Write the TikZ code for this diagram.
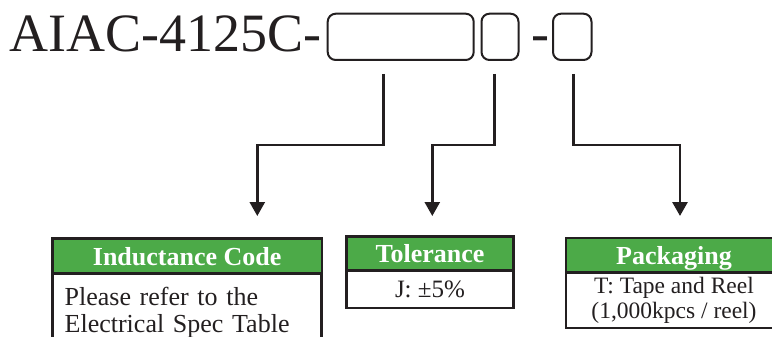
\documentclass[tikz,border=0pt]{standalone}
\usepackage{fontspec}
\setmainfont{Liberation Serif}
\usetikzlibrary{positioning,calc,arrows.meta}
\definecolor{hdrgreen}{RGB}{76,170,72}
\definecolor{inkblack}{RGB}{35,31,32}
\tikzset{
	partbox/.style={draw=inkblack, line width=2pt, rounded corners=8pt, inner sep=0pt, outer sep=0pt},
	headbox/.style={draw=inkblack, fill=hdrgreen, line width=2.6pt, inner sep=0pt, outer sep=0pt,
		text=white, font=\fontsize{26}{28}\selectfont\bfseries, text height=18pt, text depth=0pt},
	bodybox/.style={draw=inkblack, line width=2.6pt, outer sep=0pt, text=inkblack},
	feed/.style={draw=inkblack, line width=2.8pt, -{Triangle[width=15pt,length=14pt]}}
}
\begin{document}
\begin{tikzpicture}[x=1pt, y=-1pt]
	\useasboundingbox (0,0) rectangle (772,337);
	% part number with the blank fields
	\node[anchor=base west, inner sep=0pt, text=inkblack, font=\fontsize{54}{60}\selectfont] (pn) at (9,52) {AIAC-4125C-};
	\node[partbox, minimum width=146pt, minimum height=46.3pt] (code) at (400.7,36.85) {};
	\node[partbox, minimum width=37pt, minimum height=46.3pt] (tol) at (500,36.85) {};
	\node[anchor=base, inner sep=0pt, text=inkblack, font=\fontsize{54}{60}\selectfont] (dash) at (540,52) {-};
	\node[partbox, minimum width=38.5pt, minimum height=46.3pt] (pack) at (572.25,36.85) {};
	% legend boxes
	\node[headbox, minimum width=269.3pt, minimum height=35pt] (indhead) at (187.15,256) {Inductance Code};
	\node[bodybox, below=0pt of indhead, text width=245pt, inner xsep=12pt, inner ysep=13.8pt, align=left,
		font=\fontsize{26}{27}\selectfont] (indbody) {Please refer to the\\Electrical Spec Table};
	\node[headbox, minimum width=167.4pt, minimum height=34.4pt] (tolhead) at (430,253.5) {Tolerance};
	\node[bodybox, below=0pt of tolhead, minimum width=167.4pt, minimum height=37.3pt, inner sep=0pt,
		font=\fontsize{25}{27}\selectfont] (tolbody) {J: ±5\%};
	\node[headbox, minimum width=215.7pt, minimum height=34.7pt] (packhead) at (674,255.3) {Packaging};
	\node[bodybox, below=0pt of packhead, minimum width=215.7pt, minimum height=55.3pt, inner sep=0pt, align=center,
		font=\fontsize{23.5}{25}\selectfont] (packbody) {T: Tape and Reel\\ (1,000kpcs / reel)};
	% leaders
	\coordinate (codeout) at (383.3,74);
	\coordinate (codein) at (257.3,216);
	\coordinate (tolout) at (494.3,74);
	\coordinate (tolin) at (432.3,216);
	\coordinate (packout) at (573.3,74);
	\coordinate (packin) at (680,216);
	\foreach \a/\b in {codeout/codein, tolout/tolin, packout/packin}
		\draw[feed] (\a) |- ($(\a)!.5!(\b)$) -| (\b);
\end{tikzpicture}
\end{document}
